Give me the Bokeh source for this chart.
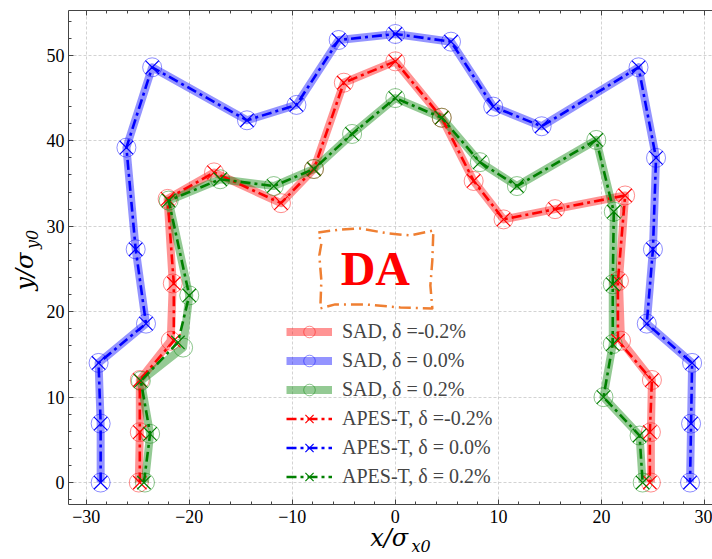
from bokeh.plotting import figure
from bokeh.models import (Range1d, SingleIntervalTicker, FixedTicker, LinearAxis, Label,
                          Legend, LegendItem)
from bokeh.embed import file_html
from bokeh.resources import INLINE

# ---------------- data ----------------
# delta = -0.2 %
apes_m02_x = [-24.8, -24.8, -24.8, -21.5, -21.5, -22.1, -17.6, -11.1, -7.9, -5.0, 0.0,
              4.5, 7.6, 10.5, 15.5, 22.3, 21.6, 21.6, 24.9, 24.7, 24.7]
apes_m02_y = [0.0, 5.9, 12.0, 16.6, 23.3, 33.2, 36.3, 32.7, 36.7, 46.8, 49.3,
              42.7, 35.3, 30.8, 32.0, 33.6, 23.6, 16.6, 12.0, 5.9, 0.0]
sad_m02_x = [-24.9, -24.8, -24.8, -21.8, -21.6, -22.1, -17.6, -11.1, -7.9, -5.0, 0.0,
             4.5, 7.6, 10.5, 15.5, 22.3, 21.7, 21.9, 24.9, 24.8, 24.8]
sad_m02_y = [0.0, 5.9, 12.0, 16.6, 23.3, 33.2, 36.3, 32.7, 36.7, 46.8, 49.3,
             42.7, 35.3, 30.8, 32.0, 33.6, 23.6, 16.6, 12.0, 5.9, 0.0]

# delta = 0.0 %
apes_0_x = [-28.6, -28.6, -28.8, -24.2, -25.2, -26.1, -23.6, -14.4, -9.6, -5.5, 0.0,
            5.4, 9.5, 14.2, 23.6, 25.3, 25.0, 24.4, 28.8, 28.7, 28.6]
apes_0_y = [0.0, 6.9, 14.0, 18.6, 27.3, 39.2, 48.6, 42.4, 44.2, 51.8, 52.5,
            51.6, 44.0, 41.7, 48.6, 38.0, 27.3, 18.6, 14.0, 6.9, 0.0]
sad_0_x = apes_0_x
sad_0_y = apes_0_y

# delta = 0.2 %
apes_p02_x = [-24.4, -23.8, -24.7, -21.1, -20.0, -22.0, -17.0, -11.8, -7.9, -4.2, 0.0,
              4.5, 8.2, 11.8, 19.5, 21.2, 21.1, 21.1, 20.2, 23.7, 24.0]
apes_p02_y = [0.0, 5.7, 11.9, 16.4, 21.9, 33.0, 35.5, 34.7, 36.7, 40.8, 45.0,
              42.7, 37.5, 34.7, 40.1, 31.7, 23.2, 16.2, 10.0, 5.5, 0.0]
sad_p02_x = [-24.3, -23.8, -24.7, -20.6, -20.0, -22.0, -17.0, -11.8, -7.9, -4.2, 0.0,
             4.5, 8.2, 11.8, 19.5, 21.2, 21.1, 21.1, 20.2, 23.7, 24.0]
sad_p02_y = [0.0, 5.7, 11.9, 15.8, 21.9, 33.0, 35.5, 34.7, 36.7, 40.8, 45.0,
             42.7, 37.5, 34.7, 40.1, 31.7, 23.2, 16.2, 10.0, 5.5, 0.0]

labels_sad = ["SAD, δ =-0.2%", "SAD, δ = 0.0%", "SAD, δ = 0.2%"]
labels_apes = ["APES-T, δ =-0.2%", "APES-T, δ = 0.0%", "APES-T, δ = 0.2%"]
colors = ["#ff0000", "#0000ff", "#008000"]

x_ticks = [-30, -20, -10, 0, 10, 20, 30]
y_ticks = [0, 10, 20, 30, 40, 50]

# axis titles: main part and subscript, with their centre positions (data units)
x_title, x_title_sub = "x/σ", "x0"
x_title_pos, x_title_sub_pos = -0.6, 2.5
y_title, y_title_sub = "y/σ", "y0"
y_title_pos, y_title_sub_pos = 24.7, 28.45

# annotation box ("DA")
da_text = "DA"
da_pos = (-1.94, 25.05)
da_box_x = [-7.48, -5.34, -3.40, -0.68, 1.46, 3.69, 3.59, 3.40, 3.59, 0.49, -2.91,
            -5.83, -7.28, -7.18, -7.38, -7.18, -7.48]
da_box_y = [29.27, 29.62, 29.73, 29.15, 28.92, 29.50, 25.99, 23.07, 20.38, 20.49, 20.85,
            20.85, 20.38, 23.65, 26.58, 27.98, 29.27]

# ---------------- figure ----------------
SERIF = "Liberation Serif"
TITLE_FONT = "DejaVu Serif"
p = figure(width=712, height=559, output_backend="svg", toolbar_location=None,
           x_range=Range1d(-31.72, 30.78), y_range=Range1d(-2.57, 55.25),
           min_border_left=68, min_border_right=0, min_border_top=10,
           min_border_bottom=55, x_axis_location=None, y_axis_location=None)
p.outline_line_color = None
p.background_fill_color = "white"
p.border_fill_color = "white"

AX_COLOR = "#444444"


def style_axis(ax):
    ax.axis_line_color = AX_COLOR
    ax.axis_line_width = 1
    ax.major_tick_line_color = AX_COLOR
    ax.minor_tick_line_color = AX_COLOR
    ax.major_tick_in = 5
    ax.major_tick_out = 0
    ax.minor_tick_in = 3
    ax.minor_tick_out = 0
    ax.major_label_text_font = SERIF
    ax.major_label_text_color = "black"
    ax.major_label_text_font_size = "18px"


def fmt(v):
    return ("\u2212" + str(abs(v))) if v < 0 else str(v)


def title_axis(ticks, text, size, standoff, vertical=False):
    ax = LinearAxis(ticker=FixedTicker(ticks=ticks, minor_ticks=[]))
    ax.axis_line_color = None
    ax.major_tick_line_color = None
    ax.minor_tick_line_color = None
    ax.major_tick_in = 0
    ax.major_tick_out = 0
    ax.major_label_overrides = {ticks[0]: text}
    ax.major_label_text_font = TITLE_FONT
    ax.major_label_text_font_style = "italic"
    ax.major_label_text_font_size = size
    ax.major_label_text_color = "black"
    ax.major_label_standoff = standoff
    if vertical:
        ax.major_label_orientation = "vertical"
    return ax


xb = LinearAxis(ticker=SingleIntervalTicker(interval=10, num_minor_ticks=5))
style_axis(xb)
xb.major_label_standoff = 5
xb.major_label_overrides = {v: fmt(v) for v in x_ticks}
p.add_layout(xb, "below")
# subscript first, then the main part pulled back up over it
p.add_layout(title_axis([x_title_sub_pos], x_title_sub, "16px", 11), "below")
p.add_layout(title_axis([x_title_pos], x_title, "24px", -35), "below")

xt = LinearAxis(ticker=SingleIntervalTicker(interval=10, num_minor_ticks=5))
style_axis(xt)
xt.major_label_text_color = None
xt.major_label_text_font_size = "1px"
xt.major_label_standoff = 0
p.add_layout(xt, "above")

yl = LinearAxis(ticker=SingleIntervalTicker(interval=10, num_minor_ticks=5))
style_axis(yl)
yl.major_label_standoff = 4
yl.major_label_overrides = {v: fmt(v) for v in y_ticks}
p.add_layout(yl, "left")
p.add_layout(title_axis([y_title_sub_pos], y_title_sub, "16px", 1, vertical=True), "left")
p.add_layout(title_axis([y_title_pos], y_title, "24px", -19, vertical=True), "left")

p.xgrid.ticker = SingleIntervalTicker(interval=10)
p.ygrid.ticker = SingleIntervalTicker(interval=10)
for g in (p.xgrid, p.ygrid):
    g.grid_line_color = "#c8c8c8"
    g.grid_line_width = 0.8
    g.grid_line_dash = "3 2"

# ---------------- series ----------------
sad_data = [(sad_m02_x, sad_m02_y), (sad_0_x, sad_0_y), (sad_p02_x, sad_p02_y)]
apes_data = [(apes_m02_x, apes_m02_y), (apes_0_x, apes_0_y), (apes_p02_x, apes_p02_y)]

items = []
for (xs, ys), c, lab in zip(sad_data, colors, labels_sad):
    l = p.line(xs, ys, line_color=c, line_alpha=0.42, line_width=8, line_join="round")
    s = p.scatter(xs, ys, marker="circle", size=19, fill_color=None,
                  line_color=c, line_alpha=0.45, line_width=1)
    items.append(LegendItem(label=lab, renderers=[l, s]))

for (xs, ys), c, lab in zip(apes_data, colors, labels_apes):
    l = p.line(xs, ys, line_color=c, line_width=2.6, line_dash="10 4 3 4")
    s = p.scatter(xs, ys, marker="x", size=19, line_color=c, line_width=1.2)
    items.append(LegendItem(label=lab, renderers=[l, s]))

# annotation box
p.line(da_box_x, da_box_y, line_color="#ef7f32", line_width=2.5,
       line_dash="12 5 2 5", line_join="round")
p.add_layout(Label(x=da_pos[0], y=da_pos[1], text=da_text, text_color="#ff0000",
                   text_font=SERIF, text_font_style="bold", text_font_size="48px",
                   text_align="center", text_baseline="middle"))

legend = Legend(items=items, location=(218, 13), glyph_width=46, glyph_height=29,
                label_height=20, spacing=0, padding=0, margin=0, label_standoff=10,
                label_text_font=SERIF, label_text_font_size="20px",
                border_line_alpha=0, background_fill_alpha=0)
p.add_layout(legend)

open("out.html", "w").write(file_html(p, INLINE))
